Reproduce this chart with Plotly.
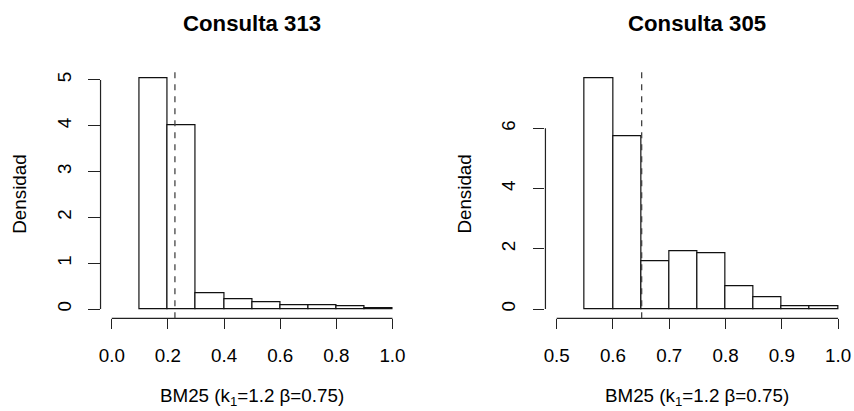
import numpy as np
import plotly.graph_objects as go

# ---- data ----
left_title = "Consulta 313"
right_title = "Consulta 305"
left_edges = [0.1, 0.2, 0.3, 0.4, 0.5, 0.6, 0.7, 0.8, 0.9, 1.0]
left_density = [5.03, 4.02, 0.35, 0.22, 0.14, 0.08, 0.08, 0.07, 0.01]
left_cut = 0.225
left_xlim = [0.0, 1.0]
left_xticks = [0.0, 0.2, 0.4, 0.6, 0.8, 1.0]
left_yticks = [0, 1, 2, 3, 4, 5]

right_edges = [0.55, 0.60, 0.65, 0.70, 0.75, 0.80, 0.85, 0.90, 0.95, 1.0]
right_density = [7.65, 5.73, 1.57, 1.91, 1.85, 0.77, 0.40, 0.09, 0.09]
right_cut = 0.651
right_xlim = [0.5, 1.0]
right_xticks = [0.5, 0.6, 0.7, 0.8, 0.9, 1.0]
right_yticks = [0, 2, 4, 6]

x_label = "BM25 (k<sub>1</sub>=1.2 β=0.75)"
y_label = "Densidad"

FONT = "Liberation Sans, Arial, sans-serif"
FS = 18.8
W, H = 854, 411

fig = go.Figure()

panels = [
    dict(title=left_title, edges=left_edges, dens=left_density, cut=left_cut,
         xlim=left_xlim, xticks=left_xticks, yticks=left_yticks,
         xdom=[99.0 / W, 403.6 / W], xa="x", ya="y"),
    dict(title=right_title, edges=right_edges, dens=right_density, cut=right_cut,
         xlim=right_xlim, xticks=right_xticks, yticks=right_yticks,
         xdom=[546.0 / W, 851.3 / W], xa="x2", ya="y2"),
]

ydom = [(H - 318.3) / H, (H - 69.3) / H]
LINEC = "#222222"

for i, p in enumerate(panels):
    e = np.array(p["edges"])
    centers = (e[:-1] + e[1:]) / 2
    widths = np.diff(e)
    fig.add_trace(go.Bar(x=centers, y=p["dens"], width=widths,
                         marker=dict(color="white", line=dict(color="#111111", width=1.2)),
                         xaxis=p["xa"], yaxis=p["ya"], showlegend=False, hoverinfo="skip"))
    ymax = max(p["dens"])
    yr = [-0.04 * ymax, 1.04 * ymax]
    xl = p["xlim"]
    dx = (xl[1] - xl[0]) * 0.04
    xr = [xl[0] - dx, xl[1] + dx]
    sfx = "" if i == 0 else "2"
    fig.update_layout(**{
        "xaxis" + sfx: dict(domain=p["xdom"], range=xr, anchor=p["ya"],
                            tickvals=p["xticks"], ticktext=["%.1f" % v for v in p["xticks"]],
                            ticks="outside", ticklen=10, tickwidth=1.2, tickcolor=LINEC,
                            showline=False, showgrid=False, zeroline=False,
                            ticklabelstandoff=10,
                            tickfont=dict(family=FONT, size=FS, color="black")),
        "yaxis" + sfx: dict(domain=ydom, range=yr, anchor=p["xa"],
                            tickvals=p["yticks"], ticktext=[str(v) for v in p["yticks"]],
                            tickangle=-90,
                            ticks="outside", ticklen=11.5, tickwidth=1.2, tickcolor=LINEC,
                            showline=False, showgrid=False, zeroline=False,
                            ticklabelstandoff=10,
                            tickfont=dict(family=FONT, size=FS, color="black")),
    })
    # axis lines spanning tick ranges (R style)
    fig.add_shape(type="line", xref=p["xa"], yref=p["ya"] + " domain",
                  x0=p["xticks"][0], x1=p["xticks"][-1], y0=0, y1=0,
                  line=dict(color=LINEC, width=1.2))
    fig.add_shape(type="line", xref=p["xa"] + " domain", yref=p["ya"],
                  x0=0, x1=0, y0=p["yticks"][0], y1=p["yticks"][-1],
                  line=dict(color=LINEC, width=1.2))
    # dashed vertical line
    fig.add_shape(type="line", xref=p["xa"], yref=p["ya"] + " domain",
                  x0=p["cut"], x1=p["cut"], y0=0, y1=1,
                  line=dict(color="#444444", width=1.3, dash="6px,6px"))
    cx = (p["xdom"][0] + p["xdom"][1]) / 2
    fig.add_annotation(text="<b>" + p["title"] + "</b>", xref="paper", yref="paper",
                       x=cx, y=1 - 23 / H, xanchor="center", yanchor="middle",
                       showarrow=False, font=dict(family=FONT, size=22.2, color="black"))
    fig.add_annotation(text=x_label, xref="paper", yref="paper",
                       x=cx, y=1 - 396.5 / H, xanchor="center", yanchor="middle",
                       showarrow=False, font=dict(family=FONT, size=FS, color="black"))
    fig.add_annotation(text=y_label, xref="paper", yref="paper",
                       x=p["xdom"][0] - 81 / W, y=1 - 193.8 / H, xanchor="center", yanchor="middle",
                       textangle=-90,
                       showarrow=False, font=dict(family=FONT, size=FS, color="black"))

fig.update_layout(width=W, height=H, autosize=False,
                  margin=dict(l=0, r=0, t=0, b=0),
                  paper_bgcolor="white", plot_bgcolor="white",
                  bargap=0, barmode="overlay")

fig.write_html("out.html")
